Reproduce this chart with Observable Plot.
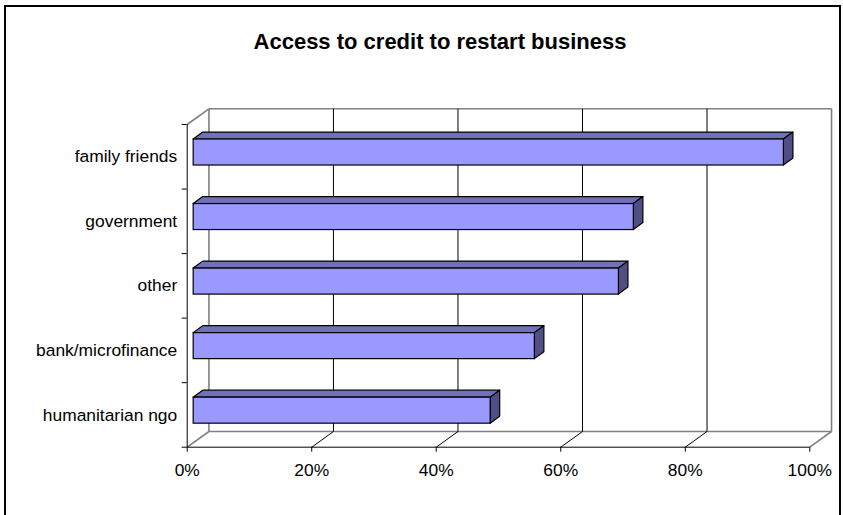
<!DOCTYPE html>
<html>
<head>
<meta charset="utf-8">
<script src="https://cdn.jsdelivr.net/npm/d3@7"></script>
<script src="https://cdn.jsdelivr.net/npm/@observablehq/plot@0.6"></script>
<style>
  html, body { margin: 0; padding: 0; background: #fff; }
  #wrap { position: relative; width: 843px; height: 515px; overflow: hidden; background: #fff; }
  #border { position: absolute; left: 4px; top: 5px; width: 837px; height: 540px; border: 2px solid #000; box-sizing: border-box; }
  #title { position: absolute; left: 0; top: 31px; width: 880px; text-align: center;
           font: bold 22px "Liberation Sans", Arial, sans-serif; line-height: 1; color: #000; }
  #chart { position: absolute; left: 0; top: 0; }
</style>
</head>
<body>
<div id="wrap">
  <div id="border"></div>
  <div id="title">Access to credit to restart business</div>
  <div id="chart"></div>
</div>
<script>
// ---- data ----
const categories = ["family friends", "government", "other", "bank/microfinance", "humanitarian ngo"];
const shares = [0.948, 0.707, 0.683, 0.548, 0.477];
const xTicks = [0, 0.2, 0.4, 0.6, 0.8, 1];

// ---- 3D depth (in data units) ----
const WALL_DX = 0.0349, WALL_DY = 0.243;   // back wall offset
const FRONT_DX = 0.0104, FRONT_DY = 0.066; // bar front face offset
const BAR_DX = 0.0153, BAR_DY = 0.108;     // bar depth
const HALF = 0.2014;                        // half bar thickness (category units)

const n = categories.length;
const bars = categories.map((c, i) => ({cat: c, v: shares[i], yc: n - 1 - i + 0.5}));

const topFace = bars.flatMap(b => [
  {cat: b.cat, y: b.yc + HALF + FRONT_DY, x1: FRONT_DX, x2: b.v + FRONT_DX},
  {cat: b.cat, y: b.yc + HALF + FRONT_DY + BAR_DY, x1: FRONT_DX + BAR_DX, x2: b.v + FRONT_DX + BAR_DX}
]);
const sideFace = bars.flatMap(b => [
  {cat: b.cat, x: b.v + FRONT_DX, y1: b.yc - HALF + FRONT_DY, y2: b.yc + HALF + FRONT_DY},
  {cat: b.cat, x: b.v + FRONT_DX + BAR_DX, y1: b.yc - HALF + FRONT_DY + BAR_DY, y2: b.yc + HALF + FRONT_DY + BAR_DY}
]);

const xMin = xTicks[0], xMax = xTicks[xTicks.length - 1];
const wallLines = [
  {x1: xMin + WALL_DX, y1: WALL_DY, x2: xMax + WALL_DX, y2: WALL_DY},
  {x1: xMin + WALL_DX, y1: n + WALL_DY, x2: xMax + WALL_DX, y2: n + WALL_DY},
  {x1: xMin + WALL_DX, y1: WALL_DY, x2: xMin + WALL_DX, y2: n + WALL_DY},
  {x1: xMax + WALL_DX, y1: WALL_DY, x2: xMax + WALL_DX, y2: n + WALL_DY},
  {x1: xMin, y1: 0, x2: xMin + WALL_DX, y2: WALL_DY},
  {x1: xMax, y1: 0, x2: xMax + WALL_DX, y2: WALL_DY},
  {x1: xMin, y1: n, x2: xMin + WALL_DX, y2: n + WALL_DY}
];
const inner = xTicks.slice(1, -1);
const gridLines = inner.flatMap(t => [
  {x1: t + WALL_DX, y1: WALL_DY, x2: t + WALL_DX, y2: n + WALL_DY},
  {x1: t, y1: 0, x2: t + WALL_DX, y2: WALL_DY}
]);

const yTickBounds = d3.range(0, n + 1);
const yLabelPos = bars.map(b => b.yc);

const font = "'Liberation Sans', Arial, sans-serif";

const chart = Plot.plot({
  width: 843,
  height: 515,
  marginLeft: 186.7,
  marginRight: 33.7,
  marginTop: 124,
  marginBottom: 68.3,
  style: {fontFamily: font, background: "transparent", overflow: "visible", color: "#000"},
  x: {domain: [xMin, xMax]},
  y: {domain: [0, n]},
  marks: [
    Plot.link(wallLines, {x1: "x1", y1: "y1", x2: "x2", y2: "y2", stroke: "#808080", strokeWidth: 1.6}),
    Plot.link(gridLines, {x1: "x1", y1: "y1", x2: "x2", y2: "y2", stroke: "#000", strokeWidth: 1}),
    Plot.areaX(topFace, {y: "y", x1: "x1", x2: "x2", z: "cat", fill: "#7171b9", stroke: "#000", strokeWidth: 1.2, strokeLinejoin: "round"}),
    Plot.areaY(sideFace, {x: "x", y1: "y1", y2: "y2", z: "cat", fill: "#4f4f86", stroke: "#000", strokeWidth: 1.2, strokeLinejoin: "round"}),
    Plot.rect(bars, {x1: () => FRONT_DX, x2: d => d.v + FRONT_DX, y1: d => d.yc - HALF + FRONT_DY, y2: d => d.yc + HALF + FRONT_DY,
                     fill: "#9999ff", stroke: "#000", strokeWidth: 1.2}),
    Plot.ruleY([0], {x1: xMin, x2: xMax, stroke: "#000", strokeWidth: 1}),
    Plot.ruleX([xMin], {y1: 0, y2: n, stroke: "#000", strokeWidth: 1}),
    Plot.axisX({ticks: xTicks, tickFormat: d3.format(".0%"), tickSize: 5, tickPadding: 11, fontSize: 17.4, label: null, stroke: "#000"}),
    Plot.axisY({ticks: yTickBounds, tickFormat: () => "", tickSize: 5, label: null, stroke: "#000"}),
    Plot.axisY({ticks: yLabelPos, tickFormat: (d) => bars.find(b => b.yc === d).cat, tickSize: 0, tickPadding: 10, fontSize: 17.4, label: null})
  ]
});
document.getElementById("chart").appendChild(chart);
</script>
</body>
</html>
